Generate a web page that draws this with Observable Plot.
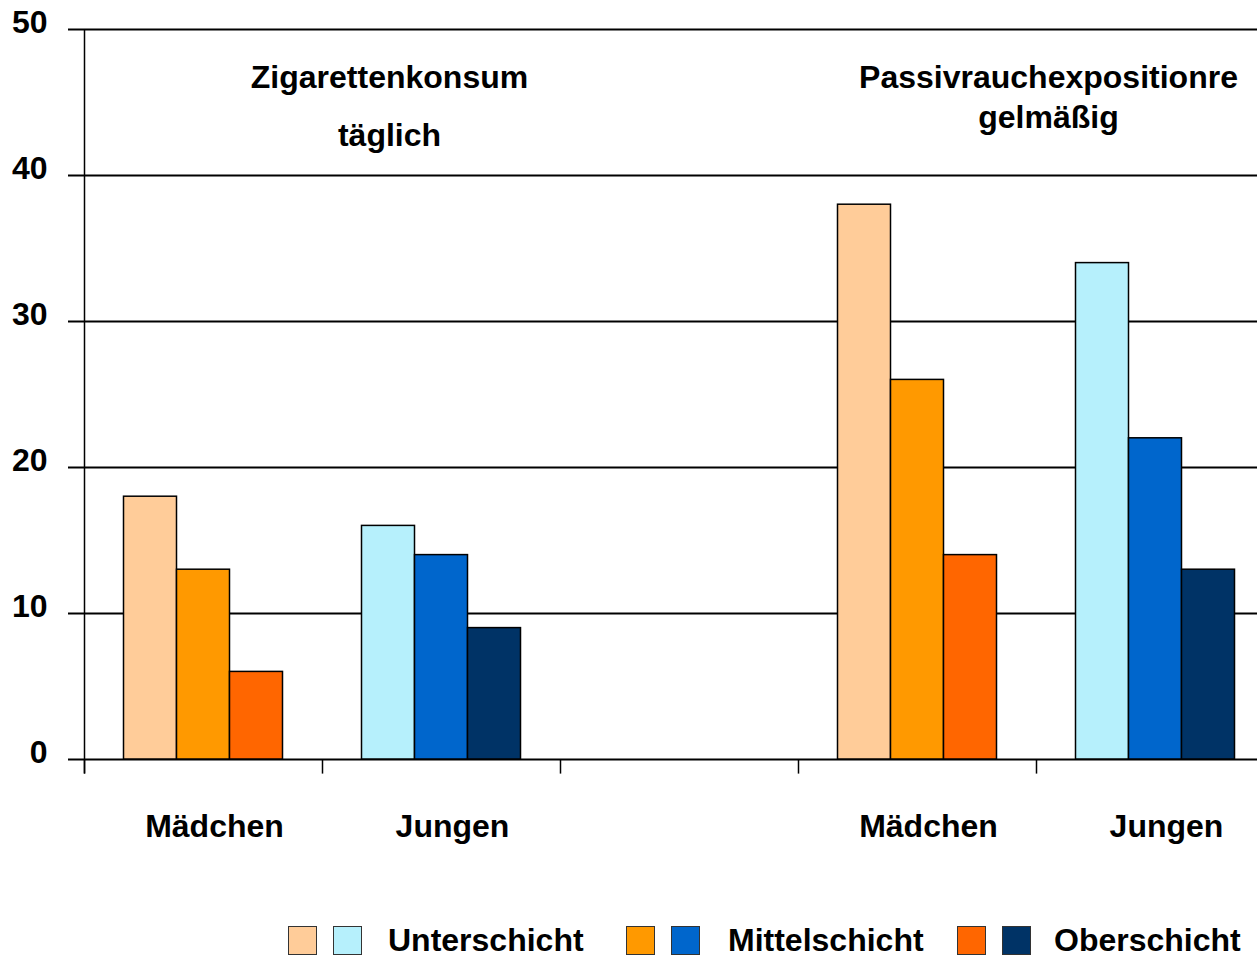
<!DOCTYPE html>
<html><head><meta charset="utf-8">
<script src="https://cdn.jsdelivr.net/npm/d3@7"></script>
<script src="https://cdn.jsdelivr.net/npm/@observablehq/plot@0.6"></script>
<style>
body{margin:0;background:#fff;font-family:"Liberation Sans",Arial,sans-serif;}
#chart svg{display:block;}
#legend{position:relative;height:42px;width:1257px;}
.sw{position:absolute;top:11px;width:27px;height:27px;border:1.5px solid #333;}
.lt{position:absolute;top:9px;font-size:32px;line-height:32px;font-weight:bold;color:#000;white-space:nowrap;}
</style></head>
<body>
<div id="chart"></div>
<div id="legend"></div>
<script>
// ---- data ----
const slots = ["zig-m", "zig-j", "leer", "pas-m", "pas-j"];
const slotLabels = ["Mädchen", "Jungen", "", "Mädchen", "Jungen"];
const schichten = ["Unterschicht", "Mittelschicht", "Oberschicht"];
const zigMaedchen = [18, 13, 6];
const zigJungen = [16, 14, 9];
const pasMaedchen = [38, 26, 14];
const pasJungen = [34, 22, 13];
const farbenMaedchen = ["#FFCC99", "#FF9900", "#FF6600"];
const farbenJungen = ["#B6F0FC", "#0066CC", "#003366"];
const yTicks = [0, 10, 20, 30, 40, 50];
const titelZig = ["Zigarettenkonsum", "täglich"];
const titelPas = ["Passivrauchexpositionre", "gelmäßig"];

// ---- table ----
const series = [
  {slot: "zig-m", values: zigMaedchen, colors: farbenMaedchen},
  {slot: "zig-j", values: zigJungen, colors: farbenJungen},
  {slot: "pas-m", values: pasMaedchen, colors: farbenMaedchen},
  {slot: "pas-j", values: pasJungen, colors: farbenJungen}
];
const rows = series.flatMap(s => s.values.map((v, k) => ({slot: s.slot, k, schicht: schichten[k], value: v, color: s.colors[k]})));
const labelRows = slots.map((s, i) => ({slot: s, label: slotLabels[i]})).filter(d => d.label);

const band = 238, pad = 39.5, bw = 53;
const font = {fontSize: 32, fontWeight: "bold", fill: "black"};

const barMarks = schichten.map((_, k) => Plot.barY(rows.filter(d => d.k === k), {
  x: "slot", y: "value", fill: "color", stroke: "black", strokeWidth: 1.5,
  insetLeft: pad + k * bw, insetRight: band - pad - (k + 1) * bw
}));

const chart = Plot.plot({
  width: 1257, height: 915,
  marginLeft: 84, marginRight: 0, marginTop: 29, marginBottom: 156,
  style: {fontFamily: "'Liberation Sans', Arial, sans-serif", background: "white", color: "black"},
  x: {type: "band", domain: slots, range: [84, 84 + band * slots.length], padding: 0, axis: null},
  y: {domain: [0, 50], axis: null, label: null},
  color: {type: "identity"},
  marks: [
    Plot.ruleY(yTicks, {stroke: "black", strokeWidth: 2}),
    Plot.axisY({ticks: yTicks, label: null, tickSize: 16, strokeWidth: 2, stroke: "black", tickFormat: () => ""}),
    Plot.axisY({ticks: yTicks, label: null, tickSize: 0, tickPadding: 37, tickFormat: d => String(d), dy: -7, ...font}),
    Plot.ruleX([slots[0]], {x: d => d, dx: -band / 2, y1: -1, y2: 50, stroke: "black", strokeWidth: 1.5}),
    Plot.ruleX(slots, {x: d => d, dx: -band / 2, y1: 0, y2: -1, stroke: "black", strokeWidth: 1.5}),
    ...barMarks,
    Plot.text(labelRows, {x: "slot", y: 0, text: "label", dy: 67, dx: 11, ...font}),
    Plot.text([titelZig[0]], {x: () => slots[0], y: 50, text: d => d, dx: 186, dy: 48, ...font}),
    Plot.text([titelZig[1]], {x: () => slots[0], y: 50, text: d => d, dx: 186, dy: 106, ...font}),
    Plot.text([titelPas[0]], {x: () => slots[3], y: 50, text: d => d, dx: 131, dy: 48, ...font}),
    Plot.text([titelPas[1]], {x: () => slots[3], y: 50, text: d => d, dx: 131, dy: 88, ...font})
  ]
});
document.getElementById("chart").appendChild(chart);

// ---- legend ----
const legend = document.getElementById("legend");
const legendPos = [
  {sw: [288, 333], text: 388},
  {sw: [626, 671], text: 728},
  {sw: [957, 1002], text: 1054}
];
schichten.forEach((s, k) => {
  const p = legendPos[k];
  [farbenMaedchen[k], farbenJungen[k]].forEach((c, j) => {
    const d = document.createElement("div");
    d.className = "sw"; d.style.left = p.sw[j] + "px"; d.style.background = c;
    legend.appendChild(d);
  });
  const t = document.createElement("div");
  t.className = "lt"; t.style.left = p.text + "px"; t.textContent = s;
  legend.appendChild(t);
});
</script>
</body></html>
